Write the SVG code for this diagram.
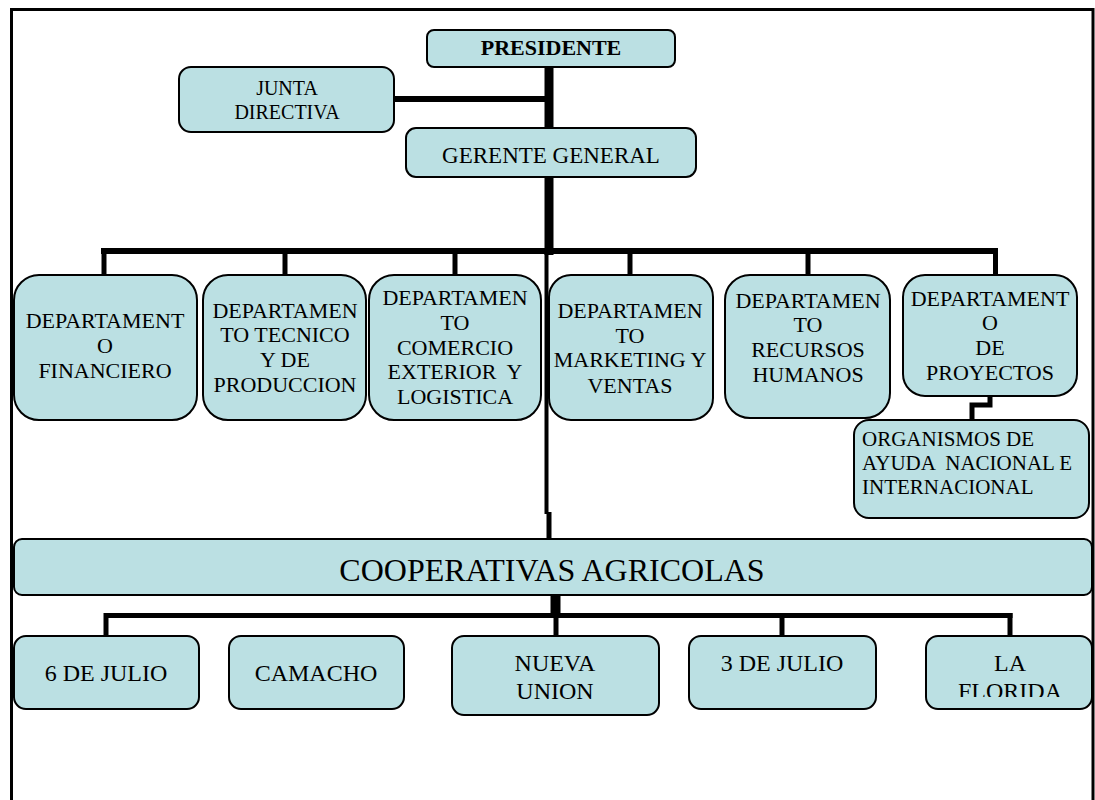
<svg xmlns="http://www.w3.org/2000/svg" width="1095" height="800" viewBox="0 0 1095 800">
<style>
.box{fill:#BBE0E3;stroke:#000;stroke-width:2}
.t{font-family:"Liberation Serif","Times New Roman",serif;fill:#000;text-anchor:middle}
.d{font-size:22px}
.b{font-size:24px}
.ln{stroke:#000;fill:none;stroke-linecap:butt}
</style>
<defs>
<clipPath id="clipFlorida"><rect x="926" y="636" width="166" height="61"/></clipPath>
</defs>
<rect x="0" y="0" width="1095" height="800" fill="#fff"/>
<path d="M11.5,800 V9.5 H1093 V800" fill="none" stroke="#000" stroke-width="3"/>

<g id="connectors">
  <line class="ln" x1="549" y1="66" x2="549" y2="128" stroke-width="9"/>
  <line class="ln" x1="394" y1="99" x2="549" y2="99" stroke-width="6"/>
  <line class="ln" x1="549" y1="176" x2="549" y2="255" stroke-width="9"/>
  <line class="ln" x1="101" y1="251" x2="998" y2="251" stroke-width="6"/>
  <line class="ln" x1="104" y1="251" x2="104" y2="276" stroke-width="5"/>
  <line class="ln" x1="285" y1="251" x2="285" y2="276" stroke-width="5"/>
  <line class="ln" x1="455" y1="251" x2="455" y2="276" stroke-width="5"/>
  <line class="ln" x1="630" y1="251" x2="630" y2="276" stroke-width="5"/>
  <line class="ln" x1="808" y1="251" x2="808" y2="276" stroke-width="5"/>
  <line class="ln" x1="995.5" y1="248" x2="995.5" y2="276" stroke-width="5"/>
  <line class="ln" x1="546.5" y1="254" x2="546.5" y2="514" stroke-width="4"/>
  <line class="ln" x1="549" y1="512" x2="549" y2="540" stroke-width="5"/>
  <path class="ln" d="M990,395 V405 H972 V421" stroke-width="5"/>
  <line class="ln" x1="555.5" y1="594" x2="555.5" y2="616" stroke-width="10"/>
  <line class="ln" x1="104" y1="615.5" x2="1012.5" y2="615.5" stroke-width="5"/>
  <line class="ln" x1="106" y1="613" x2="106" y2="637" stroke-width="5"/>
  <line class="ln" x1="556" y1="613" x2="556" y2="637" stroke-width="5"/>
  <line class="ln" x1="782" y1="613" x2="782" y2="637" stroke-width="5"/>
  <line class="ln" x1="1010" y1="613" x2="1010" y2="637" stroke-width="5"/>
</g>

<g id="presidente">
  <rect class="box" x="427" y="30" width="248" height="37" rx="7"/>
  <text class="t" x="551" y="55" font-size="22" font-weight="bold">PRESIDENTE</text>
</g>
<g id="junta">
  <rect class="box" x="179" y="67" width="215" height="65" rx="12"/>
  <text class="t" x="287" y="95" font-size="20">JUNTA</text>
  <text class="t" x="287" y="119" font-size="20">DIRECTIVA</text>
</g>
<g id="gerente">
  <rect class="box" x="406" y="128" width="290" height="49" rx="10"/>
  <text class="t" x="551" y="163" font-size="23">GERENTE GENERAL</text>
</g>

<g id="financiero">
  <rect class="box" x="14" y="275" width="183" height="145" rx="25"/>
  <text class="t d" x="105" y="328">DEPARTAMENT</text>
  <text class="t d" x="105" y="353">O</text>
  <text class="t d" x="105" y="378">FINANCIERO</text>
</g>
<g id="tecnico">
  <rect class="box" x="203" y="275" width="163" height="145" rx="25"/>
  <text class="t d" x="285" y="318">DEPARTAMEN</text>
  <text class="t d" x="285" y="342">TO TECNICO</text>
  <text class="t d" x="285" y="367">Y DE</text>
  <text class="t d" x="285" y="392">PRODUCCION</text>
</g>
<g id="comercio">
  <rect class="box" x="369" y="275" width="172" height="145" rx="25"/>
  <text class="t d" x="455" y="305">DEPARTAMEN</text>
  <text class="t d" x="455" y="330">TO</text>
  <text class="t d" x="455" y="355">COMERCIO</text>
  <text class="t d" x="455" y="379" style="white-space:pre">EXTERIOR  Y</text>
  <text class="t d" x="455" y="404">LOGISTICA</text>
</g>
<g id="marketing">
  <rect class="box" x="549" y="275" width="164" height="145" rx="22"/>
  <text class="t d" x="630" y="318">DEPARTAMEN</text>
  <text class="t d" x="630" y="343">TO</text>
  <text class="t d" x="630" y="367">MARKETING Y</text>
  <text class="t d" x="630" y="393">VENTAS</text>
</g>
<g id="rrhh">
  <rect class="box" x="725" y="275" width="165" height="143" rx="25"/>
  <text class="t d" x="808" y="308">DEPARTAMEN</text>
  <text class="t d" x="808" y="332">TO</text>
  <text class="t d" x="808" y="357">RECURSOS</text>
  <text class="t d" x="808" y="382">HUMANOS</text>
</g>
<g id="proyectos">
  <rect class="box" x="903" y="275" width="174" height="121" rx="22"/>
  <text class="t d" x="990" y="306">DEPARTAMENT</text>
  <text class="t d" x="990" y="330">O</text>
  <text class="t d" x="990" y="355">DE</text>
  <text class="t d" x="990" y="380">PROYECTOS</text>
</g>
<g id="organismos">
  <rect class="box" x="854" y="420" width="235" height="98" rx="15"/>
  <text class="t" x="862" y="446" style="text-anchor:start;font-size:21px">ORGANISMOS DE</text>
  <text class="t" x="862" y="470" style="text-anchor:start;font-size:21px;white-space:pre">AYUDA  NACIONAL E</text>
  <text class="t" x="862" y="494" style="text-anchor:start;font-size:21px">INTERNACIONAL</text>
</g>

<g id="cooperativas">
  <rect class="box" x="14" y="539" width="1078" height="56" rx="8"/>
  <text class="t" x="552" y="581" font-size="32">COOPERATIVAS AGRICOLAS</text>
</g>

<g id="julio6">
  <rect class="box" x="14" y="636" width="185" height="73" rx="12"/>
  <text class="t b" x="106" y="681">6 DE JULIO</text>
</g>
<g id="camacho">
  <rect class="box" x="229" y="636" width="175" height="73" rx="12"/>
  <text class="t b" x="316" y="681">CAMACHO</text>
</g>
<g id="nuevaunion">
  <rect class="box" x="452" y="636" width="207" height="79" rx="12"/>
  <text class="t b" x="555" y="671">NUEVA</text>
  <text class="t b" x="555" y="699">UNION</text>
</g>
<g id="julio3">
  <rect class="box" x="689" y="636" width="187" height="73" rx="12"/>
  <text class="t b" x="782" y="671">3 DE JULIO</text>
</g>
<g id="laflorida">
  <rect class="box" x="926" y="636" width="166" height="73" rx="12"/>
  <text class="t b" x="1010" y="671">LA</text>
  <text class="t b" x="1010" y="699" clip-path="url(#clipFlorida)">FLORIDA</text>
</g>
</svg>
